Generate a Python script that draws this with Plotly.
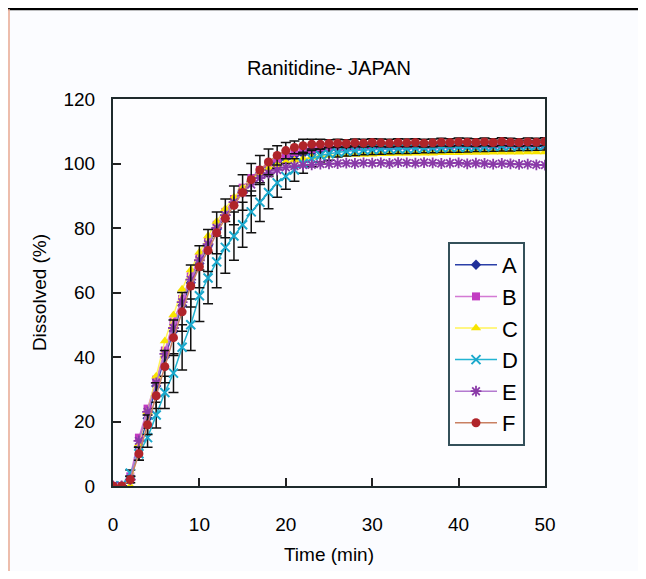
import plotly.graph_objects as go

time_min = list(range(0, 51))

series_A = [0, 0, 2, 12, 21, 31, 40, 48, 56, 63, 69, 74.5, 79.5, 84, 88, 91.5, 94.5, 97, 99, 100.5,
            101.5, 102.5, 103, 103.5, 104, 104.3, 104.4, 104.5, 104.5, 104.6, 104.7, 104.7, 104.8, 104.8, 104.9, 105,
            105, 105.1, 105.1, 105.2, 105.2, 105.3, 105.3, 105.3, 105.4, 105.4, 105.5, 105.5, 105.5, 105.6, 105.6]
series_B = [0, 0, 3, 15, 24, 33, 42, 51, 58, 65, 71, 76, 81, 85, 89, 92.5, 95.5, 98, 100, 101.5,
            102.5, 103.5, 104, 104.5, 105, 105.2, 105.3, 105.3, 105.4, 105.4, 105.5, 105.5, 105.4, 105.6, 105.5, 105.6,
            105.6, 105.5, 105.7, 105.6, 105.7, 105.8, 105.7, 105.8, 105.7, 105.9, 105.8, 105.8, 105.9, 105.8, 105.9]
series_C = [0, 0, 0, 13, 23, 34, 45, 53, 61, 67, 72.5, 77.5, 82, 86, 89.5, 92.5, 95, 97, 98.5, 99.5,
            100.5, 101, 101.5, 102, 102.3, 102.5, 102.6, 102.7, 102.8, 102.8, 102.9, 103, 103, 103.1, 103.1, 103.2,
            103.2, 103.2, 103.3, 103.3, 103.3, 103.4, 103.4, 103.4, 103.5, 103.5, 103.5, 103.5, 103.6, 103.6, 103.6]
series_D = [0, 0, 4, 10, 15, 22, 29, 35, 43, 50, 59, 64.5, 69.5, 74, 77.5, 81, 85, 88, 91, 94,
            96, 98, 100, 101.5, 102.5, 103, 103.5, 103.8, 104, 104.2, 104.3, 104.4, 104.5, 104.6, 104.6, 104.7,
            104.8, 104.8, 104.9, 105, 105, 105.1, 105.2, 105.2, 105.3, 105.4, 105.4, 105.5, 105.5, 105.6, 105.7]
series_E = [0, 0, 2, 14, 23, 32, 41, 49, 57, 64, 70, 75, 80, 84, 88, 91, 93.5, 95.5, 97, 98,
            98.8, 99.2, 99.5, 99.6, 99.8, 99.9, 100, 100.1, 100, 100.2, 100.1, 100.2, 100, 100.3, 100.2, 100.1,
            100.3, 100.2, 100, 100.1, 100.2, 99.9, 100.1, 100, 99.8, 100, 99.9, 99.7, 99.8, 99.6, 99.5]
series_F = [0, 0, 2, 10, 19, 28, 37, 46, 54, 62, 68, 73, 78.5, 83, 87, 91, 95, 98, 100.5, 102.5,
            104, 105, 105.5, 106, 106, 106.2, 106.3, 106.2, 106.4, 106.3, 106.5, 106.4, 106.3, 106.5, 106.4, 106.5,
            106.3, 106.4, 106.6, 106.5, 106.7, 106.6, 106.5, 106.7, 106.5, 106.8, 106.6, 106.5, 106.7, 106.6, 106.8]

err_D = [0, 0, 1, 2, 3, 4, 5, 6, 7, 8, 8, 8, 8, 8, 7.5, 7, 6.5, 6, 5, 4.5,
         4, 3.5, 3, 2.5, 2, 2, 1.5, 1.5, 1.5, 1.5, 1.5, 1.5, 1.5, 1.5, 1.5, 1.5,
         1.5, 1.5, 1.5, 1.5, 1.5, 1.5, 1.5, 1.5, 1.5, 1.5, 1.5, 1.5, 1.5, 1.5, 1.5]
err_F = [0, 0, 1, 2, 3, 4, 5, 5.5, 6, 6.5, 6.5, 6.5, 6.5, 6, 6, 5.5, 5, 4.5, 4, 3,
         2.5, 2, 2, 1.5, 1.5, 1.2, 1.2, 1.2, 1.2, 1.2, 1.2, 1.2, 1.2, 1.2, 1.2, 1.2,
         1.2, 1.2, 1.2, 1.2, 1.2, 1.2, 1.2, 1.2, 1.2, 1.2, 1.2, 1.2, 1.2, 1.2, 1.2]

x_ticks = [0, 10, 20, 30, 40, 50]
y_ticks = [0, 20, 40, 60, 80, 100, 120]

FONT = "Liberation Sans, Arial, sans-serif"

# page body has an 8px margin on every side; the plot area should land at x 113..545, y 99..486 in the window
OFF = 8
L, T, PW, PH = 113 - OFF, 99 - OFF, 432, 387
W, H = 646 - 2 * OFF, 579 - 2 * OFF

fig = go.Figure()

def add(name, y, line_color, marker_color, symbol, size, err=None, mline=0):
    kw = {}
    if err is not None:
        kw["error_y"] = dict(type="data", array=err, visible=True, color="#111111",
                             thickness=1.5, width=5)
    marker = dict(symbol=symbol, size=size, color=marker_color)
    if mline:
        marker["line"] = dict(color=marker_color, width=mline)
    fig.add_trace(go.Scatter(x=time_min, y=y, name=name, mode="lines+markers",
                             line=dict(color=line_color, width=1.5), marker=marker, **kw))

add("A", series_A, "#2a3fa8", "#1f2f9a", "diamond", 8)
add("B", series_B, "#d47ad4", "#c23cc2", "square", 8)
add("C", series_C, "#fff35a", "#f7e400", "triangle-up", 9)
add("D", series_D, "#22b4d2", "#1aa8cc", "x-thin-open", 9, err=err_D, mline=2)
add("E", series_E, "#b47ad0", "#8a3aa8", "asterisk-open", 9, mline=1.8)
add("F", series_F, "#c98062", "#b0242a", "circle", 9, err=err_F)

def px_x(x):  # window pixel -> paper x
    return (x - OFF - L) / PW

def px_y(y):  # window pixel -> paper y
    return (T + PH - (y - OFF)) / PH

fig.update_layout(
    width=W, height=H,
    margin=dict(l=L, r=W - L - PW, t=T, b=H - T - PH, autoexpand=False),
    paper_bgcolor="#fbfcff",
    plot_bgcolor="#fdfdff",
    font=dict(family=FONT, size=19, color="#000000"),
    title=dict(text="Ranitidine- JAPAN", x=(L + PW / 2) / W, xanchor="center",
               y=1 - (68 - OFF) / H, yanchor="middle", font=dict(family=FONT, size=20, color="#000000")),
    showlegend=True,
    legend=dict(x=px_x(448), y=px_y(242), xanchor="left", yanchor="top",
                bgcolor="#fdfdff", bordercolor="#34505a", borderwidth=2,
                font=dict(family=FONT, size=22, color="#000000"),
                tracegroupgap=0, itemwidth=42),
)

fig.update_xaxes(range=[0, 50], tickvals=x_ticks, ticks="inside", ticklen=8, tickwidth=1.5,
                 tickcolor="#222222", showline=True, linecolor="#1e2a2c", linewidth=2, mirror=True,
                 showgrid=False, zeroline=False, ticklabelstandoff=20, automargin=False,
                 title=dict(text="Time (min)", standoff=14, font=dict(family=FONT, size=19)))
fig.update_yaxes(range=[0, 120], tickvals=y_ticks, ticks="inside", ticklen=8, tickwidth=1.5,
                 tickcolor="#222222", showline=True, linecolor="#1e2a2c", linewidth=2, mirror=True,
                 showgrid=False, zeroline=False, ticklabelstandoff=12, automargin=False,
                 title=dict(text="Dissolved (%)", standoff=12, font=dict(family=FONT, size=19)))

# outer frame of the original figure
fig.add_shape(type="line", xref="paper", yref="paper",
              x0=px_x(8), x1=px_x(660), y0=px_y(9), y1=px_y(9),
              line=dict(color="#000000", width=2.5))
fig.add_shape(type="line", xref="paper", yref="paper",
              x0=px_x(9), x1=px_x(9), y0=px_y(9), y1=px_y(577),
              line=dict(color="#e8a890", width=1.5))

fig.write_html("out.html")
